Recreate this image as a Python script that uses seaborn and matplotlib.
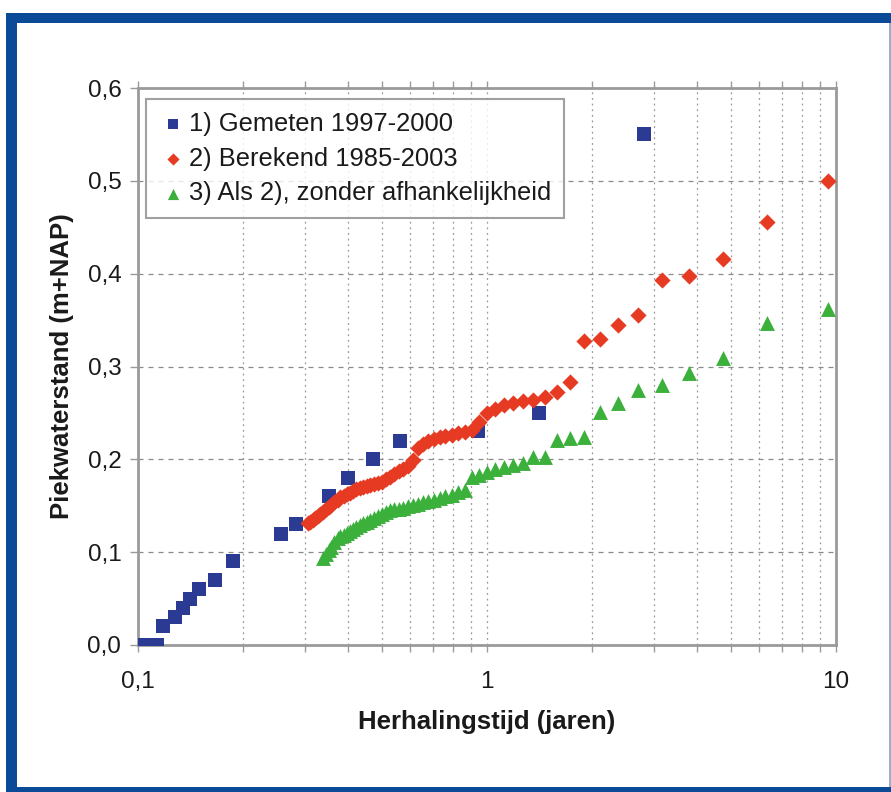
import matplotlib
matplotlib.use("Agg")
import matplotlib.pyplot as plt
import matplotlib.ticker as mticker
from matplotlib.patches import Rectangle
import seaborn as sns
import pandas as pd

# ---- data ----
gemeten_x = [0.105, 0.113, 0.118, 0.128, 0.135, 0.141, 0.150, 0.166, 0.187,
             0.257, 0.284, 0.352, 0.400, 0.471, 0.564, 0.94, 1.41, 2.82]
gemeten_y = [0.00, 0.00, 0.02, 0.03, 0.04, 0.05, 0.06, 0.07, 0.09,
             0.12, 0.13, 0.16, 0.18, 0.20, 0.22, 0.23, 0.25, 0.55]

berekend_x = [9.5, 6.33, 4.75, 3.8, 3.17, 2.71, 2.375, 2.11, 1.9, 1.727, 1.583,
              1.462, 1.357, 1.267, 1.188, 1.118, 1.056, 1.000, 0.950, 0.905,
              0.864, 0.826, 0.792, 0.760, 0.731, 0.704, 0.679, 0.655, 0.633,
              0.613, 0.594, 0.576, 0.559, 0.543, 0.528, 0.514, 0.500, 0.487,
              0.475, 0.463, 0.452, 0.442, 0.432, 0.422, 0.413, 0.404, 0.396,
              0.388, 0.380, 0.373, 0.365, 0.358, 0.352, 0.345, 0.339, 0.333,
              0.328, 0.322, 0.317, 0.311, 0.306]
berekend_y = [0.500, 0.456, 0.416, 0.397, 0.393, 0.356, 0.345, 0.330, 0.327,
              0.283, 0.272, 0.267, 0.264, 0.263, 0.261, 0.259, 0.254, 0.250,
              0.240, 0.232, 0.229, 0.228, 0.226, 0.225, 0.224, 0.222, 0.220,
              0.216, 0.212, 0.199, 0.193, 0.190, 0.187, 0.184, 0.181, 0.179,
              0.176, 0.174, 0.173, 0.172, 0.171, 0.170, 0.169, 0.168, 0.166,
              0.164, 0.163, 0.161, 0.159, 0.156, 0.154, 0.151, 0.149, 0.146,
              0.143, 0.141, 0.139, 0.137, 0.135, 0.133, 0.131]

zonder_x = [9.5, 6.33, 4.75, 3.8, 3.17, 2.71, 2.375, 2.11, 1.9, 1.727, 1.583,
            1.462, 1.357, 1.267, 1.188, 1.118, 1.056, 1.000, 0.950, 0.905,
            0.864, 0.826, 0.792, 0.760, 0.731, 0.704, 0.679, 0.655, 0.633,
            0.613, 0.594, 0.576, 0.559, 0.543, 0.528, 0.514, 0.500, 0.487,
            0.475, 0.463, 0.452, 0.442, 0.432, 0.422, 0.413, 0.404, 0.396,
            0.388, 0.380, 0.373, 0.365, 0.358, 0.352, 0.345, 0.339]
zonder_y = [0.362, 0.347, 0.309, 0.293, 0.280, 0.275, 0.261, 0.251, 0.224,
            0.223, 0.221, 0.203, 0.203, 0.196, 0.194, 0.192, 0.190, 0.186,
            0.183, 0.181, 0.167, 0.165, 0.162, 0.160, 0.158, 0.156, 0.155,
            0.154, 0.152, 0.151, 0.150, 0.148, 0.147, 0.146, 0.145, 0.143,
            0.141, 0.139, 0.137, 0.135, 0.133, 0.131, 0.129, 0.127, 0.125,
            0.123, 0.121, 0.119, 0.117, 0.115, 0.111, 0.106, 0.102, 0.098,
            0.094]

labels = ["1) Gemeten 1997-2000", "2) Berekend 1985-2003",
          "3) Als 2), zonder afhankelijkheid"]
y_ticks = [0.0, 0.1, 0.2, 0.3, 0.4, 0.5, 0.6]
x_ticks = [0.1, 1, 10]
x_ticklabels = ["0,1", "1", "10"]
xlabel = "Herhalingstijd (jaren)"
ylabel = "Piekwaterstand (m+NAP)"

# ---- style ----
sns.set_theme(style="white")
plt.rcParams["font.family"] = ["Liberation Sans", "DejaVu Sans"]

fig = plt.figure(figsize=(8.91, 7.92), dpi=100)
fig.patch.set_facecolor("white")
W, H = 891, 792
frame_col = "#0B4A96"
# frame bands (pixel -> figure coords)
def band(x0, y0, x1, y1, col):
    fig.patches.append(Rectangle((x0 / W, 1 - y1 / H), (x1 - x0) / W, (y1 - y0) / H,
                                 transform=fig.transFigure, facecolor=col,
                                 edgecolor="none", zorder=0))
band(6, 13, 891, 23, frame_col)
band(6, 13, 17, 792, frame_col)
band(6, 787, 891, 792, frame_col)
band(889, 23, 891, 787, "#9DAFC8")

ax = fig.add_axes([138 / W, 1 - 645 / H, (836 - 138) / W, (645 - 88) / H])

df1 = pd.DataFrame({"x": gemeten_x, "y": gemeten_y})
df2 = pd.DataFrame({"x": berekend_x, "y": berekend_y})
df3 = pd.DataFrame({"x": zonder_x, "y": zonder_y})

sns.scatterplot(data=df1, x="x", y="y", ax=ax, marker="s", s=100, color="#2B3A93",
                linewidth=0, label=labels[0], zorder=3)
sns.scatterplot(data=df2, x="x", y="y", ax=ax, marker="D", s=68, color="#E63B22",
                linewidth=0, label=labels[1], zorder=4)
sns.scatterplot(data=df3, x="x", y="y", ax=ax, marker="^", s=115, color="#3BB03B",
                linewidth=0, label=labels[2], zorder=4)

ax.set_xscale("log")
ax.set_xlim(0.1, 10)
ax.set_ylim(0, 0.6)
ax.set_yticks(y_ticks)
ax.yaxis.set_major_formatter(mticker.FuncFormatter(lambda v, p: f"{v:.1f}".replace(".", ",")))
ax.set_xticks(x_ticks)
ax.set_xticklabels(x_ticklabels)
ax.xaxis.set_minor_locator(mticker.LogLocator(base=10, subs=range(2, 10)))
ax.xaxis.set_minor_formatter(mticker.NullFormatter())

ax.grid(True, which="major", axis="y", color="#8a8a8a", linestyle=(0, (4, 4)), linewidth=0.9)
ax.grid(True, which="both", axis="x", color="#9a9a9a", linestyle=(0, (1.5, 3)), linewidth=0.9)
ax.set_axisbelow(True)

for sp in ax.spines.values():
    sp.set_color("#9a9a9a")
    sp.set_linewidth(2.0)

ax.tick_params(axis="y", which="major", direction="out", length=6, width=1,
               color="#9a9a9a", labelsize=17.5, pad=6, left=True, labelcolor="#1a1a1a")
ax.tick_params(axis="x", which="both", direction="out", length=5, width=1,
               color="#9a9a9a", bottom=True, top=True, labelsize=17.5, pad=14,
               labelcolor="#1a1a1a")

ax.set_xlabel(xlabel, fontsize=18.5, fontweight="bold", labelpad=12, color="#1a1a1a")
ax.set_ylabel(ylabel, fontsize=18.5, fontweight="bold", labelpad=10, color="#1a1a1a")

leg = ax.legend(loc="upper left", bbox_to_anchor=(0.011, 0.98), fontsize=18.4,
                frameon=True, fancybox=False, edgecolor="#888888",
                handletextpad=0.1, borderpad=0.5, labelspacing=0.42,
                markerscale=0.75, handlelength=1.1, borderaxespad=0.0)
leg.get_frame().set_linewidth(1.5)
for t in leg.get_texts():
    t.set_color("#1a1a1a")
# widen the legend box on the right like the reference
fig.canvas.draw()
bb = leg.get_frame().get_bbox()
leg.get_frame().set_width(bb.width + 16)

fig.savefig("out.png", dpi=100)
